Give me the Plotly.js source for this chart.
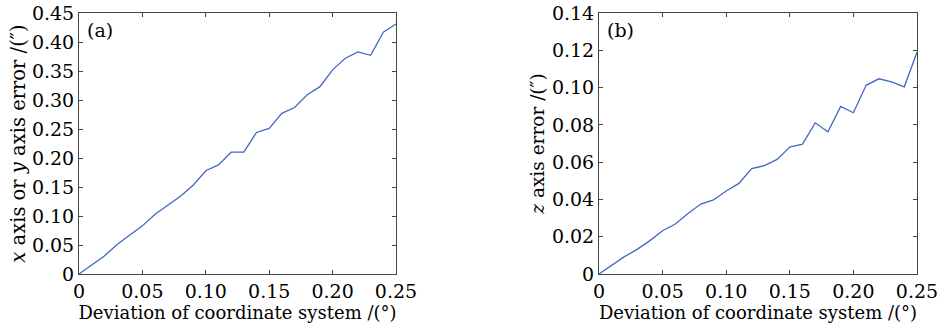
<!DOCTYPE html>
<html>
<head>
<meta charset="utf-8">
<script src="https://cdn.plot.ly/plotly-3.0.1.min.js"></script>
<style>html,body{margin:0;padding:0;background:#fff;}#plot{width:943px;height:329px;}</style>
</head>
<body>
<div id="plot"></div>
<script>
const deviation = [0,0.01,0.02,0.03,0.04,0.05,0.06,0.07,0.08,0.09,0.10,0.11,0.12,0.13,0.14,0.15,0.16,0.17,0.18,0.19,0.20,0.21,0.22,0.23,0.24,0.25];
const xyError = [0,0.015,0.031,0.051,0.067,0.083,0.103,0.118,0.134,0.153,0.178,0.188,0.210,0.210,0.244,0.251,0.277,0.287,0.309,0.323,0.352,0.372,0.383,0.377,0.417,0.431];
const zError = [0,0.0048,0.0093,0.0132,0.0179,0.0232,0.0268,0.0325,0.0375,0.0397,0.0445,0.0486,0.0565,0.0581,0.0615,0.0681,0.0697,0.0811,0.0763,0.0899,0.0865,0.1012,0.1047,0.1031,0.1004,0.1189];
const xTickVals = [0,0.05,0.10,0.15,0.20,0.25];
const xTickText = ["0","0.05","0.10","0.15","0.20","0.25"];
const yTickValsA = [0,0.05,0.10,0.15,0.20,0.25,0.30,0.35,0.40,0.45];
const yTickTextA = ["0","0.05","0.10","0.15","0.20","0.25","0.30","0.35","0.40","0.45"];
const yTickValsB = [0,0.02,0.04,0.06,0.08,0.10,0.12,0.14];
const yTickTextB = ["0","0.02","0.04","0.06","0.08","0.10","0.12","0.14"];
const xTitle = "Deviation of coordinate system /(°)";
const yTitleA = "<i>x</i> axis or <i>y</i> axis error /(″)";
const yTitleB = "<i>z</i> axis error /(″)";

const fam = "'DejaVu Serif', 'Liberation Serif', serif";
const font = {family: fam, size: 19, color: "#000"};
const xTitleFont = {family: fam, size: 18, color: "#000"};
const yTitleFontA = {family: fam, size: 19.5, color: "#000"};
const yTitleFontB = {family: fam, size: 18.5, color: "#000"};
const lineColor = "#4267c6";

const axBase = {
  showgrid: false, zeroline: false, showline: true, linecolor: "#444", linewidth: 1,
  mirror: "ticks", ticks: "inside", ticklen: 4, tickcolor: "#444",
  tickfont: font, tickmode: "array", fixedrange: true
};

const traces = [
  {x: deviation, y: xyError, type: "scatter", mode: "lines", line: {color: lineColor, width: 1.3}, xaxis: "x", yaxis: "y"},
  {x: deviation, y: zError, type: "scatter", mode: "lines", line: {color: lineColor, width: 1.3}, xaxis: "x2", yaxis: "y2"}
];

const layout = {
  width: 943, height: 329,
  margin: {l: 0, r: 0, t: 0, b: 0},
  paper_bgcolor: "#fff", plot_bgcolor: "#fff",
  showlegend: false,
  font: font,
  xaxis: Object.assign({}, axBase, {domain: [79/943, 396/943], range: [0, 0.25], tickvals: xTickVals, ticktext: xTickText, anchor: "y",
    title: {text: xTitle, font: xTitleFont, standoff: 5}}),
  yaxis: Object.assign({}, axBase, {domain: [55/329, 316/329], range: [0, 0.45], tickvals: yTickValsA, ticktext: yTickTextA, anchor: "x",
    title: {text: yTitleA, font: yTitleFontA, standoff: 1}}),
  xaxis2: Object.assign({}, axBase, {domain: [599/943, 917/943], range: [0, 0.25], tickvals: xTickVals, ticktext: xTickText, anchor: "y2",
    title: {text: xTitle, font: xTitleFont, standoff: 5}}),
  yaxis2: Object.assign({}, axBase, {domain: [55/329, 316/329], range: [0, 0.14], tickvals: yTickValsB, ticktext: yTickTextB, anchor: "x2",
    title: {text: yTitleB, font: yTitleFontB, standoff: 2}}),
  annotations: [
    {text: "(a)", xref: "x domain", yref: "y domain", x: 0.02, y: 0.985, xanchor: "left", yanchor: "top", showarrow: false, font: font},
    {text: "(b)", xref: "x2 domain", yref: "y2 domain", x: 0.02, y: 0.985, xanchor: "left", yanchor: "top", showarrow: false, font: font}
  ]
};

Plotly.newPlot("plot", traces, layout, {staticPlot: true, displayModeBar: false});
</script>
</body>
</html>
